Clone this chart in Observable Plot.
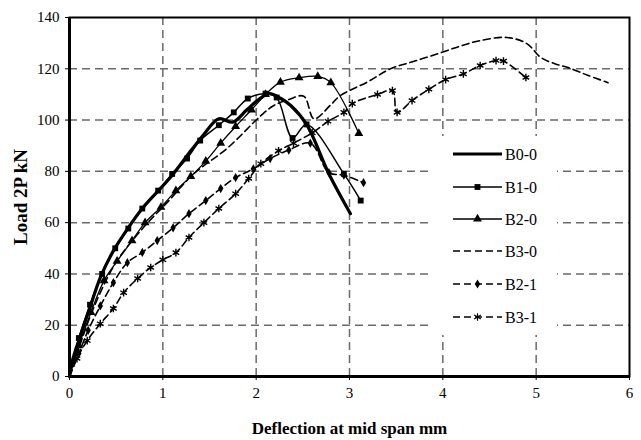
<!DOCTYPE html>
<html><head><meta charset="utf-8">
<script src="https://cdn.jsdelivr.net/npm/d3@7"></script>
<script src="https://cdn.jsdelivr.net/npm/@observablehq/plot@0.6"></script>
<style>
body{margin:0;background:#fff}
svg text{font-family:"Liberation Serif", serif !important}
g[aria-label="x-axis label"] text{font-weight:bold;font-size:17px}
g[aria-label="y-axis label"] text{font-weight:bold;font-size:19px}
</style></head><body><div id="chart"></div>
<script>
const xTicks = [0, 1, 2, 3, 4, 5, 6];
const yTicks = [0, 20, 40, 60, 80, 100, 120, 140];
const seriesNames = ["B0-0", "B1-0", "B2-0", "B3-0", "B2-1", "B3-1"];

const b00X = [0, 0.03, 0.09, 0.22, 0.33, 0.47, 0.62, 0.79, 1.08, 1.3, 1.43, 1.6, 1.75, 1.9, 2.02, 2.14, 2.26, 2.37, 2.54, 2.78, 3.01];
const b00Y = [0, 6, 13, 27, 38.6, 49, 57.5, 66, 77.6, 88, 94, 100.5, 99.2, 104, 107.8, 110.3, 108.5, 105.7, 98.3, 79, 63.5];

const b10X = [0, 0.1, 0.22, 0.35, 0.49, 0.63, 0.78, 0.95, 1.1, 1.26, 1.4, 1.6, 1.76, 1.91, 2.1, 2.22, 2.39, 2.54, 2.94, 3.12];
const b10Y = [0, 15, 28, 40, 50, 57.7, 65.5, 72.5, 79, 85, 92, 98, 103, 108.4, 110.3, 108.8, 93, 98.3, 79, 68.6];

const b20X = [0, 0.1, 0.23, 0.37, 0.51, 0.67, 0.81, 0.98, 1.14, 1.3, 1.46, 1.62, 1.78, 1.95, 2.1, 2.26, 2.46, 2.66, 2.8, 3.1];
const b20Y = [0, 12, 25, 37.4, 45, 53, 60, 66, 72.5, 78, 84, 91, 97.5, 104, 110, 114.8, 116.5, 117, 114.6, 94.8];

const b30X = [0, 0.1, 0.25, 0.49, 0.79, 1.05, 1.33, 1.69, 2.05, 2.19, 2.35, 2.51, 2.62, 2.8, 2.9, 3.2, 3.44, 3.7, 3.98, 4.2, 4.4, 4.69, 4.9, 5.05, 5.2, 5.34, 5.55, 5.77];
const b30Y = [0, 11, 26, 44, 58, 68, 79, 89, 101.7, 105.7, 108, 109.3, 100.5, 106, 109.5, 115, 120, 123, 126.3, 129, 131, 132.2, 129.8, 124.4, 122, 120.5, 117.5, 114.6];

const b21X = [0, 0.1, 0.2, 0.33, 0.47, 0.62, 0.78, 0.94, 1.11, 1.28, 1.46, 1.62, 1.78, 1.97, 2.15, 2.35, 2.58, 2.78, 2.94, 3.15];
const b21Y = [0, 9, 18, 27.5, 36.6, 44.4, 48.4, 53, 58, 63.5, 68.6, 73.3, 77.6, 81, 85, 88.3, 91, 79.5, 78.5, 75.6];

const b31X = [0, 0.08, 0.19, 0.33, 0.47, 0.58, 0.73, 0.87, 1.0, 1.14, 1.28, 1.44, 1.6, 1.78, 1.92, 2.05, 2.24, 2.4, 2.6, 2.77, 2.94, 3.03, 3.3, 3.46, 3.51, 3.67, 3.85, 4.03, 4.22, 4.4, 4.57, 4.65, 4.89];
const b31Y = [0, 7, 14, 20.6, 26.5, 32.7, 38.2, 42.5, 45.5, 48.3, 54.2, 60, 65.5, 71.3, 77.2, 83, 88, 91, 95, 99.5, 103, 106.4, 110, 111.5, 103, 107.6, 112, 115.8, 118, 121.3, 123.2, 123, 116.6];

const seriesX = [b00X, b10X, b20X, b30X, b21X, b31X];
const seriesY = [b00Y, b10Y, b20Y, b30Y, b21Y, b31Y];

// styles (separate from data)
const styleOf = {
  "B0-0": {w: 3.2, dash: null, symbol: null},
  "B1-0": {w: 1.5, dash: null, symbol: "square", r: 3.3, fill: true},
  "B2-0": {w: 1.3, dash: null, symbol: "triangle", r: 3.3, fill: true},
  "B3-0": {w: 1.6, dash: "7,4", symbol: null},
  "B2-1": {w: 1.6, dash: "7,4", symbol: "diamond", r: 2.8, fill: true},
  "B3-1": {w: 1.6, dash: "7,4", symbol: "asterisk", r: 3.6, fill: false}
};

const table = seriesNames.flatMap((name, k) => seriesX[k].map((x, i) => ({series: name, x, y: seriesY[k][i]})));

const marks = [
  Plot.gridX(xTicks.slice(1, -1), {stroke: "#6a6a6a", strokeOpacity: 1, strokeWidth: 1.5, strokeDasharray: "8,5"}),
  Plot.gridY(yTicks.slice(1, -1), {stroke: "#6a6a6a", strokeOpacity: 1, strokeWidth: 1.5, strokeDasharray: "8,5"})
];
for (const name of seriesNames) {
  const s = styleOf[name];
  const d = table.filter(r => r.series === name);
  marks.push(Plot.line(d, {x: "x", y: "y", curve: "catmull-rom", stroke: "black", strokeWidth: s.w, strokeDasharray: s.dash}));
  if (s.symbol) {
    const pts = d.slice(1);
    marks.push(s.fill
      ? Plot.dot(pts, {x: "x", y: "y", symbol: () => s.symbol, r: s.r, fill: "black", stroke: "none"})
      : Plot.dot(pts, {x: "x", y: "y", symbol: () => s.symbol, r: s.r, stroke: "black", strokeWidth: 1.4, fill: "none"}));
  }
}
marks.push(Plot.frame({stroke: "black", strokeWidth: 2}));
marks.push(Plot.ruleX([0], {stroke: "black", strokeWidth: 3}));
marks.push(Plot.ruleY([0], {stroke: "black", strokeWidth: 3}));

const chart = Plot.plot({
  width: 641, height: 440,
  marginLeft: 69, marginRight: 12, marginTop: 17, marginBottom: 64,
  style: {fontFamily: "Liberation Serif, serif", fontSize: "15px", background: "white", color: "black"},
  x: {domain: [0, 6], ticks: xTicks, tickFormat: d => String(d), tickSize: 4, tickPadding: 7, label: "Deflection at mid span mm", labelAnchor: "center", labelArrow: "none", labelOffset: 57},
  y: {domain: [0, 140], ticks: yTicks, tickFormat: d => String(d), tickSize: 4, tickPadding: 6, label: "Load 2P kN", labelAnchor: "center", labelArrow: "none", labelOffset: 56},
  symbol: {type: "identity"},
  marks
});
document.getElementById("chart").appendChild(chart);

// legend
const svg = d3.select(chart);
const lg = svg.append("g").attr("font-size", 16).attr("text-anchor", "start");
lg.append("rect").attr("x", 430).attr("y", 136).attr("width", 127).attr("height", 199).attr("fill", "white");
const rowsY = [154, 187, 219, 251, 284, 317];
const symGen = {square: d3.symbolSquare, triangle: d3.symbolTriangle, diamond: d3.symbolDiamond, asterisk: d3.symbolAsterisk};
seriesNames.forEach((name, i) => {
  const s = styleOf[name];
  const y = rowsY[i];
  lg.append("line").attr("x1", 453).attr("x2", 502).attr("y1", y).attr("y2", y)
    .attr("stroke", "black").attr("stroke-width", s.w).attr("stroke-dasharray", s.dash);
  if (s.symbol) {
    const path = d3.symbol(symGen[s.symbol], s.r * s.r * Math.PI)();
    lg.append("path").attr("d", path).attr("transform", `translate(477.5,${y})`)
      .attr("fill", s.fill ? "black" : "none").attr("stroke", s.fill ? "none" : "black").attr("stroke-width", 1.2);
  }
  lg.append("text").attr("x", 505).attr("y", y).attr("dy", "0.35em").attr("text-anchor", "start").text(name);
});
</script></body></html>
